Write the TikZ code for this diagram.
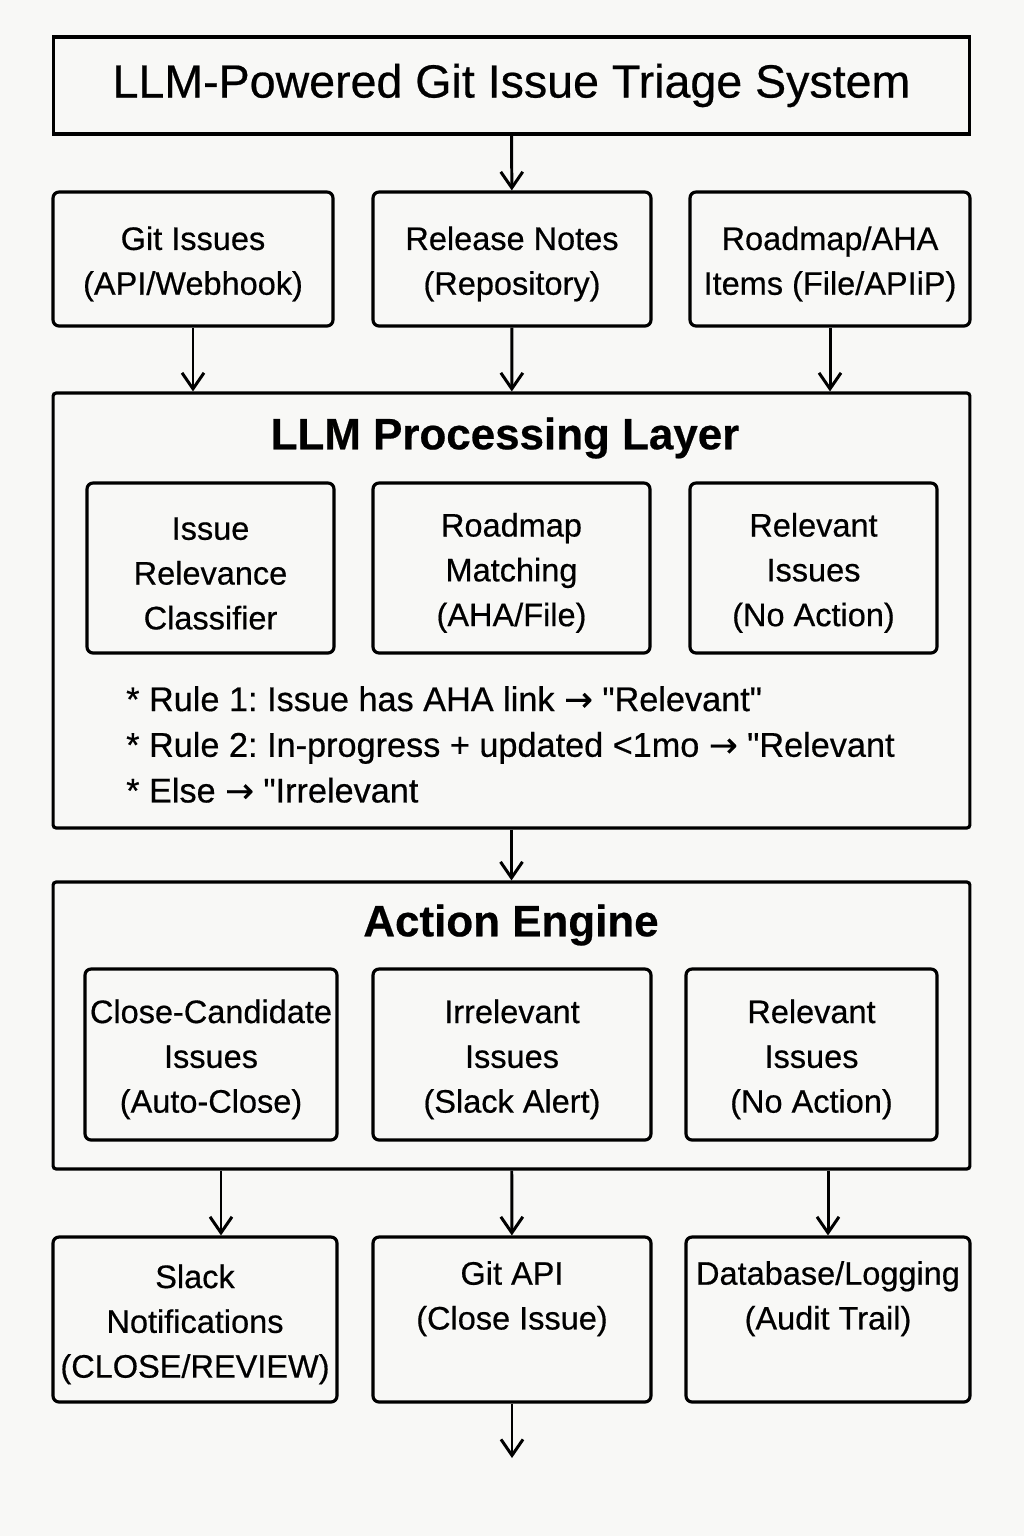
\documentclass[tikz,border=0pt]{standalone}
\usepackage{fontspec}
\setmainfont{Liberation Sans}[Ligatures=TeXOff, FakeBold=0.5]
\newfontfamily\arrowfont{DejaVu Sans}[FakeBold=0.5]
\usetikzlibrary{positioning,arrows.meta}
\usepackage{xcolor}
\definecolor{paper}{RGB}{248,248,246}
\newcommand{\rarr}{{\arrowfont\char"2192}}
\newcommand{\lowered}{\rule{0pt}{19pt}}
\frenchspacing

\begin{document}
\begin{tikzpicture}[x=0.02cm, y=-0.02cm,
    every node/.style={font=\fontsize{18.5}{25.5}\selectfont, align=center},
    box/.style={draw, line width=1.8pt, rounded corners=1.2mm, inner sep=0pt},
    layer/.style={draw, line width=1.8pt, rounded corners=0.6mm, inner sep=0pt},
    heading/.style={font=\fontsize{25}{30}\selectfont\bfseries},
    flow/.style={-{Straight Barb[length=3.2mm, width=4.4mm, line width=1.7pt]}, line width=1.7pt}]
    \fill[paper] (0,0) rectangle (1024,1536);
    \useasboundingbox (0,0) rectangle (1024,1536);

    % title and inputs
    \node[draw, line width=1.8pt, minimum width=18.34cm, minimum height=1.94cm, font=\fontsize{26.5}{30}\selectfont] (title) at (511.5,85.5) {\lowered LLM-Powered Git Issue Triage System};
    \node[box, minimum width=5.6cm, minimum height=2.68cm] (srcGit) at (193,259) {\lowered Git Issues\\(API/Webhook)};
    \node[box, minimum width=5.56cm, minimum height=2.68cm] (srcNotes) at (512,259) {\lowered Release Notes\\(Repository)};
    \node[box, minimum width=5.6cm, minimum height=2.68cm] (srcRoadmap) at (830,259) {\lowered Roadmap/AHA\\Items (File/APIiP)};

    % LLM processing layer
    \node[layer, minimum width=18.34cm, minimum height=8.7cm] (llm) at (511.5,610.5) {};
    \node[heading] (llmHead) at (505,438) {LLM Processing Layer};
    \node[box, minimum width=4.94cm, minimum height=3.4cm] (classifier) at (210.5,568) {\lowered Issue\\Relevance\\Classifier};
    \node[box, minimum width=5.54cm, minimum height=3.4cm] (matching) at (511.5,568) {\lowered Roadmap\\Matching\\(AHA/File)};
    \node[box, minimum width=4.94cm, minimum height=3.4cm] (relevant) at (813.5,568) {\lowered Relevant\\Issues\\(No Action)};
    \node[anchor=west, align=left, font=\fontsize{19.5}{26}\selectfont] (rules) at (120,744.5)
        {* Rule 1: Issue has AHA link \rarr\ "Relevant"\\
         * Rule 2: In-progress + updated <1mo \rarr\ "Relevant\\
         * Else \rarr\ "Irrelevant};

    % action engine
    \node[layer, minimum width=18.34cm, minimum height=5.74cm] (engine) at (511.5,1025.5) {};
    \node[heading] (engineHead) at (511,925) {Action Engine};
    \node[box, minimum width=5.04cm, minimum height=3.42cm] (closeCand) at (211,1054.5) {\lowered Close-Candidate\\Issues\\(Auto-Close)};
    \node[box, minimum width=5.56cm, minimum height=3.42cm] (irrelevant) at (512,1054.5) {\lowered Irrelevant\\Issues\\(Slack Alert)};
    \node[box, minimum width=5.02cm, minimum height=3.42cm] (relevantNo) at (811.5,1054.5) {\lowered Relevant\\Issues\\(No Action)};

    % outputs
    \node[box, minimum width=5.68cm, minimum height=3.3cm] (slack) at (195,1319.5) {\lowered Slack\\Notifications\\(CLOSE/REVIEW)};
    \node[box, minimum width=5.56cm, minimum height=3.3cm] (gitApi) at (512,1319.5) {\lowered Git API\\(Close Issue)\\\strut};
    \node[box, minimum width=5.68cm, minimum height=3.3cm] (dbLog) at (828,1319.5) {\lowered Database/Logging\\(Audit Trail)\\\strut};
    \coordinate (sink) at (512,1458);

    \draw[flow] (title) -- (srcNotes);
    \draw[flow] (srcGit) -- (srcGit |- llm.north);
    \draw[flow] (srcNotes) -- (llm);
    \draw[flow] (srcRoadmap) -- (srcRoadmap |- llm.north);
    \draw[flow] (llm) -- (engine);
    \draw[flow] ([xshift=0.2cm] closeCand |- engine.south) -- ([xshift=0.2cm] closeCand |- slack.north);
    \draw[flow] (engine) -- (gitApi);
    \draw[flow] (dbLog |- engine.south) -- (dbLog);
    \draw[flow] (gitApi) -- (sink);
\end{tikzpicture}
\end{document}
